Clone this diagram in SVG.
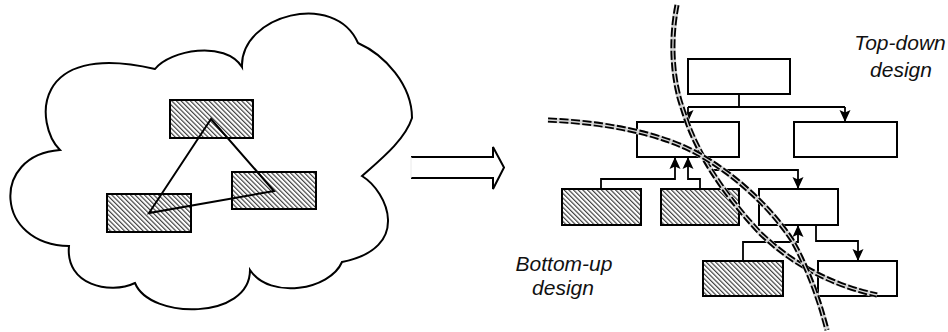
<svg xmlns="http://www.w3.org/2000/svg" width="948" height="332" viewBox="0 0 948 332">
<style>
.box{fill:#fff;stroke:#000;stroke-width:2}
.hb{fill:url(#hatch);stroke:#000;stroke-width:2}
.ln{fill:none;stroke:#000;stroke-width:1.8}
.arr{marker-end:url(#ah)}
.lbl{font-family:"Liberation Sans",Arial,sans-serif;font-style:italic;font-size:21px;fill:#111;text-anchor:middle}
.cb{fill:none;stroke:#d6d6d6;stroke-width:5.5}
.cd{fill:none;stroke:#000;stroke-width:5;stroke-dasharray:9 2.5}
.cm{fill:none;stroke:#d6d6d6;stroke-width:1.3}
</style>
<defs>
<pattern id="hatch" width="3.3" height="3.3" patternUnits="userSpaceOnUse" patternTransform="rotate(-45)">
<rect width="3.3" height="3.3" fill="#fff"/>
<line x1="0.6" y1="0" x2="0.6" y2="3.3" stroke="#333" stroke-width="1.1"/>
</pattern>
<marker id="ah" markerUnits="userSpaceOnUse" viewBox="0 0 12 11" markerWidth="12" markerHeight="11" refX="12" refY="5.5" orient="auto" overflow="visible">
<path d="M0,0 L12,5.5 L0,11 L2.5,5.5 Z" fill="#000"/>
</marker>
</defs>

<g id="cloud">
<path d="M155,69 C170,50 225,40 242,67 C240,15 335,-10 358,43 C385,55 412,85 412,118 C405,140 380,160 362,176 C388,192 412,248 342,262 C330,290 270,300 250,270 C250,320 150,320 135,283 C110,295 65,285 69,246 C-5,245 -10,155 60,150 C35,125 30,40 155,69 Z" fill="#fff" stroke="#000" stroke-width="2"/>
</g>
<g id="cloud-top-box"><rect class="hb" x="170" y="100" width="83" height="38"/></g>
<g id="cloud-left-box"><rect class="hb" x="107" y="194" width="84" height="38"/></g>
<g id="cloud-right-box"><rect class="hb" x="232" y="172" width="84" height="37"/></g>
<g id="cloud-links"><polygon points="211,119 149,213 274,191" fill="none" stroke="#000" stroke-width="2"/></g>

<g id="big-arrow">
<path d="M411,157 L493,157 L493,147 L504,167.5 L493,189 L493,178 L411,178" fill="#fff" stroke="#000" stroke-width="2" stroke-linejoin="miter"/>
<line x1="411" y1="157" x2="411" y2="178" stroke="#eaeaea" stroke-width="1"/>
</g>

<g id="n-top"><rect class="box" x="688" y="59" width="102" height="35"/></g>
<g id="n-midleft"><rect class="box" x="637" y="122" width="102" height="35"/></g>
<g id="n-midright"><rect class="box" x="794" y="122" width="103" height="35"/></g>
<g id="n-hatch1"><rect class="hb" x="562" y="189" width="79" height="36"/></g>
<g id="n-hatch2"><rect class="hb" x="661" y="189" width="78" height="36"/></g>
<g id="n-lower"><rect class="box" x="759" y="189" width="79" height="36"/></g>
<g id="n-hatch3"><rect class="hb" x="703" y="261" width="80" height="35"/></g>
<g id="n-bottomright"><rect class="box" x="818" y="261" width="79" height="35"/></g>

<g id="connectors">
<path class="ln" d="M739,94 V107 M688,107 H845"/>
<path class="ln arr" d="M688,107 V122"/>
<path class="ln arr" d="M845,107 V122"/>
<path class="ln arr" d="M601,189 V179 H675 V157"/>
<path class="ln arr" d="M700,189 V179 H688 V157"/>
<path class="ln arr" d="M710,157 V170 H798 V189"/>
<path class="ln arr" d="M816,225 V241 H858 V261"/>
<path class="ln arr" d="M743,261 V242 H798 V225"/>
</g>

<g id="curves">
<path class="cb" d="M677,5 C670,40 672,80 683,110 C695,150 720,190 760,233 C790,262 830,285 877,295"/>
<path class="cd" d="M677,5 C670,40 672,80 683,110 C695,150 720,190 760,233 C790,262 830,285 877,295"/>
<path class="cm" d="M677,5 C670,40 672,80 683,110 C695,150 720,190 760,233 C790,262 830,285 877,295"/>
<path class="cb" d="M548,120 C600,122 660,132 700,155 C740,178 772,210 792,240 C806,265 818,295 827,330"/>
<path class="cd" d="M548,120 C600,122 660,132 700,155 C740,178 772,210 792,240 C806,265 818,295 827,330"/>
<path class="cm" d="M548,120 C600,122 660,132 700,155 C740,178 772,210 792,240 C806,265 818,295 827,330"/>
</g>

<g id="labels">
<text class="lbl" x="900" y="50">Top-down</text>
<text class="lbl" x="901" y="77">design</text>
<text class="lbl" x="564" y="271">Bottom-up</text>
<text class="lbl" x="563" y="295">design</text>
</g>
</svg>
